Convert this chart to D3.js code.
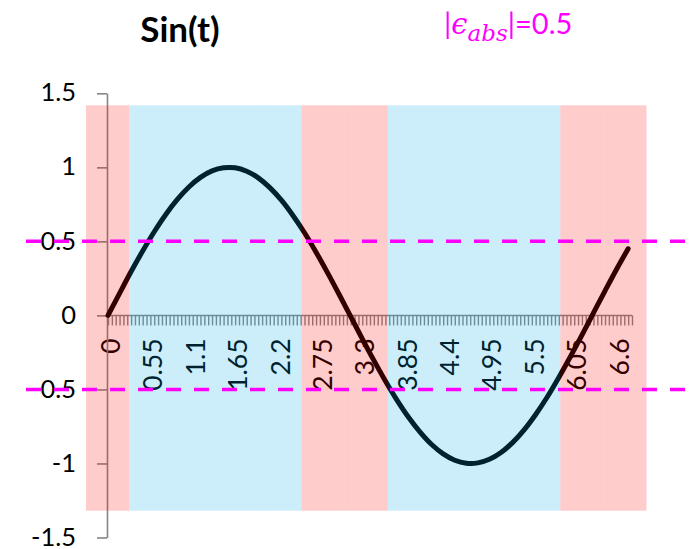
<!DOCTYPE html>
<html>
<head>
<meta charset="utf-8">
<script src="https://cdn.jsdelivr.net/npm/d3@7"></script>
<style>
  html, body { margin: 0; padding: 0; background: #fff; }
  svg { display: block; font-family: Lato, "Noto Sans", sans-serif; }
</style>
</head>
<body>
<svg id="chart" width="697" height="549"></svg>
<script>
// Samples of the plotted function
const tValues = [0, 0.15, 0.3, 0.45, 0.6, 0.75, 0.9, 1.05, 1.2, 1.35, 1.5, 1.65, 1.8, 1.95,
  2.1, 2.25, 2.4, 2.55, 2.7, 2.85, 3.0, 3.15, 3.3, 3.45, 3.6, 3.75, 3.9, 4.05, 4.2, 4.35,
  4.5, 4.65, 4.8, 4.95, 5.1, 5.25, 5.4, 5.55, 5.7, 5.85, 6.0, 6.15, 6.3, 6.45, 6.6, 6.75];
const sinValues = [0.000, 0.149, 0.296, 0.435, 0.565, 0.682, 0.783, 0.867, 0.932, 0.976,
  0.997, 0.997, 0.974, 0.929, 0.863, 0.778, 0.675, 0.558, 0.427, 0.287, 0.141, -0.008,
  -0.158, -0.304, -0.443, -0.572, -0.688, -0.788, -0.872, -0.935, -0.978, -0.998, -0.996,
  -0.972, -0.926, -0.859, -0.773, -0.669, -0.551, -0.419, -0.279, -0.133, 0.017, 0.166,
  0.312, 0.450];

// Category axis: minor ticks every 0.05, labels every 0.55
const xLabelValues = [0, 0.55, 1.1, 1.65, 2.2, 2.75, 3.3, 3.85, 4.4, 4.95, 5.5, 6.05, 6.6];
const xLabelText = ["0", "0.55", "1.1", "1.65", "2.2", "2.75", "3.3", "3.85", "4.4", "4.95", "5.5", "6.05", "6.6"];
const yTickValues = [1.5, 1, 0.5, 0, -0.5, -1, -1.5];
const yTickText = ["1.5", "1", "0.5", "0", "-0.5", "-1", "-1.5"];

// Shaded sectors (30° each): "lo" where |sin| < eps, "hi" where |sin| >= eps
const sectorKinds = ["lo", "hi", "hi", "hi", "hi", "lo", "lo", "hi", "hi", "hi", "hi", "lo", "lo"];
const epsilon = 0.5;
const thresholdLevels = [epsilon, -epsilon];

const svg = d3.select("#chart");
const W = 697;

const x = d3.scaleLinear().domain([0, 6.8]).range([108, 632]);
const y = d3.scaleLinear().domain([-1.5, 1.5]).range([537.5, 93.3]);

// secondary scales for the sector overlay
const xs = d3.scaleBand().domain(d3.range(sectorKinds.length)).range([86, 646.5]).padding(0);
const ys = d3.scaleLinear().domain([-1, 1]).range([510.7, 105.3]);

const axisColor = "#868686";

// ---- x axis: minor tick comb ----
const minorTicks = d3.range(0, 137).map(i => +(i * 0.05).toFixed(2));
const gx = svg.append("g").attr("transform", `translate(0,${y(0)})`);
gx.call(d3.axisBottom(x).tickValues(minorTicks).tickSize(10).tickSizeOuter(0).tickFormat(""));
gx.select(".domain").attr("stroke", axisColor).attr("stroke-width", 1.5)
  .attr("d", `M${x(0) - 1},0H${x(6.8)}`);
gx.selectAll(".tick line").attr("stroke", axisColor).attr("stroke-width", 1.4);

// ---- x axis labels (rotated) ----
const gxl = svg.append("g").attr("transform", `translate(0,${y(0)})`);
gxl.call(d3.axisBottom(x).tickValues(xLabelValues).tickSize(0).tickSizeOuter(0)
  .tickFormat((d, i) => xLabelText[i]));
gxl.select(".domain").remove();
gxl.selectAll(".tick text")
  .attr("transform", "rotate(-90)")
  .attr("text-anchor", "end")
  .attr("x", -23)
  .attr("y", 2)
  .attr("dy", "0.36em")
  .attr("fill", "#000")
  .style("font-size", "26.5px")
  .style("font-family", "Lato, 'Noto Sans', sans-serif");

// ---- y axis ----
const gy = svg.append("g").attr("transform", `translate(107,0)`);
gy.call(d3.axisLeft(y).tickValues(yTickValues).tickSize(10).tickSizeOuter(0).tickPadding(21)
  .tickFormat((d, i) => yTickText[i]));
gy.select(".domain").attr("stroke", axisColor).attr("stroke-width", 1.6);
gy.selectAll(".tick line").attr("stroke", axisColor).attr("stroke-width", 1.6);
gy.selectAll(".tick text")
  .attr("fill", "#000")
  .attr("dy", "0.3em")
  .style("font-size", "25.5px")
  .style("font-family", "Lato, 'Noto Sans', sans-serif");

// ---- curve ----
const pts = tValues.map((t, i) => [t, sinValues[i]]);
svg.append("path")
  .datum(pts)
  .attr("fill", "none")
  .attr("stroke", "#000")
  .attr("stroke-width", 5)
  .attr("stroke-linecap", "round")
  .attr("stroke-linejoin", "round")
  .attr("d", d3.line().x(d => x(d[0])).y(d => y(d[1])).curve(d3.curveCatmullRom));

// ---- translucent sector overlay, tints everything beneath ----
svg.append("g").selectAll("rect")
  .data(sectorKinds)
  .join("rect")
  .attr("x", (d, i) => xs(i))
  .attr("width", xs.bandwidth())
  .attr("y", ys(1))
  .attr("height", ys(-1) - ys(1))
  .attr("fill", d => d === "lo" ? "rgb(255,0,0)" : "rgb(0,168,228)")
  .attr("fill-opacity", 0.2);

// ---- threshold lines ±eps ----
svg.append("g").selectAll("line")
  .data(thresholdLevels)
  .join("line")
  .attr("x1", 26).attr("x2", W)
  .attr("y1", d => y(d)).attr("y2", d => y(d))
  .attr("stroke", "#ff00ff")
  .attr("stroke-width", 3.5)
  .attr("stroke-dasharray", "15,13");

// ---- titles ----
svg.append("text")
  .attr("x", 180).attr("y", 42)
  .attr("text-anchor", "middle")
  .style("font-size", "35px")
  .style("font-weight", "bold")
  .attr("fill", "#000")
  .text("Sin(t)");

const eps = svg.append("text")
  .attr("x", 444).attr("y", 34)
  .attr("fill", "#ff00ff")
  .style("font-size", "29px");
eps.append("tspan").text("|");
eps.append("tspan").style("font-style", "italic").style("font-family", "'DejaVu Serif', serif").text("\u03F5");
eps.append("tspan").attr("dy", 7).style("font-style", "italic").style("font-family", "'DejaVu Serif', serif")
  .style("font-size", "23px").text("abs");
eps.append("tspan").attr("dy", -7).text("|=" + epsilon);
</script>
</body>
</html>
